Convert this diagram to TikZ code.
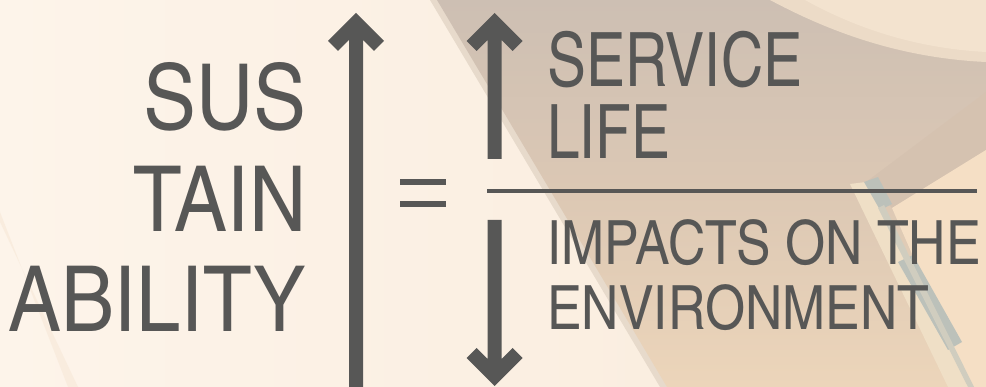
\documentclass[tikz,border=0pt]{standalone}
\usepackage{fontspec}
\newfontfamily\cond{texgyreheroscn-regular.otf}
\definecolor{ink}{HTML}{575756}
\definecolor{creamA}{HTML}{FDF4EA}
\definecolor{creamB}{HTML}{F9EBDB}
\definecolor{grayTan}{HTML}{CDBFB3}
\definecolor{tanMid}{HTML}{DCC8B4}
\definecolor{tanLow}{HTML}{ECD5BA}
\definecolor{lip}{HTML}{F3E3CF}
\definecolor{shadowBand}{HTML}{D5C2B0}
\definecolor{peach}{HTML}{F5DFC5}
\definecolor{blade}{HTML}{BCC1BA}
\definecolor{bladeEdge}{HTML}{EFDFC6}
\tikzset{
  inkfill/.style={fill=ink},
  bigword/.style={font=\cond\fontsize{91}{91}\selectfont, text=ink, inner sep=0pt, anchor=base east},
  numword/.style={font=\cond\fontsize{75}{75}\selectfont, text=ink, inner sep=0pt, anchor=base west},
  denword/.style={font=\cond\fontsize{61}{61}\selectfont, text=ink, inner sep=0pt, anchor=base west}
}
\newcommand\UpArrowShape[3]{%
  \fill[inkfill] ({#1},{#2}) -- ++(28,28) -- ++(-10,10) -- ++(-11,-11)
    -- ({#1+7},{#3}) -- ({#1-7},{#3}) -- ({#1-7},{#2+27})
    -- ++(-11,11) -- ++(-10,-10) -- cycle;}
\newcommand\DownArrowShape[3]{%
  \fill[inkfill] ({#1},{#3}) -- ++(28,-28) -- ++(-10,-10) -- ++(-11,11)
    -- ({#1+7},{#2}) -- ({#1-7},{#2}) -- ({#1-7},{#3-27})
    -- ++(-11,-11) -- ++(-10,10) -- cycle;}
\begin{document}
\begin{tikzpicture}[x=1pt,y=-1pt]
\useasboundingbox (0,0) rectangle (986,387);
\begin{scope}
\clip (0,0) rectangle (986,387);
% background
\shade[left color=creamA, right color=creamB] (0,0) rectangle (986,387);
\fill[creamB!60!tanLow, opacity=0.4] (0,212) -- (0,222) -- (78,387) -- (68,387) -- cycle;
\fill[grayTan!40!creamB] (430,0) -- (444,0) -- (674,387) -- (660,387) -- cycle;
\shade[top color=grayTan, bottom color=tanLow, middle color=tanMid] (437,0) -- (986,0) -- (986,387) -- (667,387) -- cycle;
\fill[lip!70!tanMid] (770,0) .. controls (830,32) and (900,58) .. (986,62) -- (986,0) -- cycle;
\fill[lip] (805,0) .. controls (850,25) and (910,48) .. (986,52) -- (986,0) -- cycle;
\fill[shadowBand] (986,92) -- (986,150) -- (892,208) -- (866,182) -- cycle;
\fill[peach] (892,208) -- (986,150) -- (986,387) -- (970,387) -- cycle;
\fill[bladeEdge] (850,184) -- (866,182) -- (970,387) -- (948,387) -- cycle;
\fill[blade] (864,182) -- (878,177) -- (892,204) -- (880,210) -- cycle;
\fill[blade] (898,262) -- (913,255) -- (962,342) -- (948,350) -- cycle;
\fill[blade!60!bladeEdge] (878,208) -- (884,205) -- (974,387) -- (968,387) -- cycle;
\end{scope}
% left word
\node[bigword, xscale=1.065] (sus) at (307,130) {SUS};
\node[bigword, xscale=1.065] (tain) at (307,232) {TAIN};
\node[bigword, xscale=1.065] (abil) at (307,332) {ABILITY};
% long arrow
\UpArrowShape{356}{13}{395}
% equals
\fill[inkfill] (400,179) rectangle (446,185);
\fill[inkfill] (400,201) rectangle (446,207);
% fraction arrows
\UpArrowShape{494.5}{13}{159}
\DownArrowShape{494.5}{220}{386}
% fraction bar
\fill[inkfill] (487,189.5) rectangle (977,193.5);
% numerator and denominator
\node[numword, xscale=0.95] (serv) at (547,87) {SERVICE};
\node[numword, xscale=0.95] (life) at (547,159) {LIFE};
\node[denword, xscale=1.035] (imp) at (547,265) {IMPACTS ON THE};
\node[denword, xscale=1.035] (env) at (547,330) {ENVIRONMENT};
\end{tikzpicture}
\end{document}
